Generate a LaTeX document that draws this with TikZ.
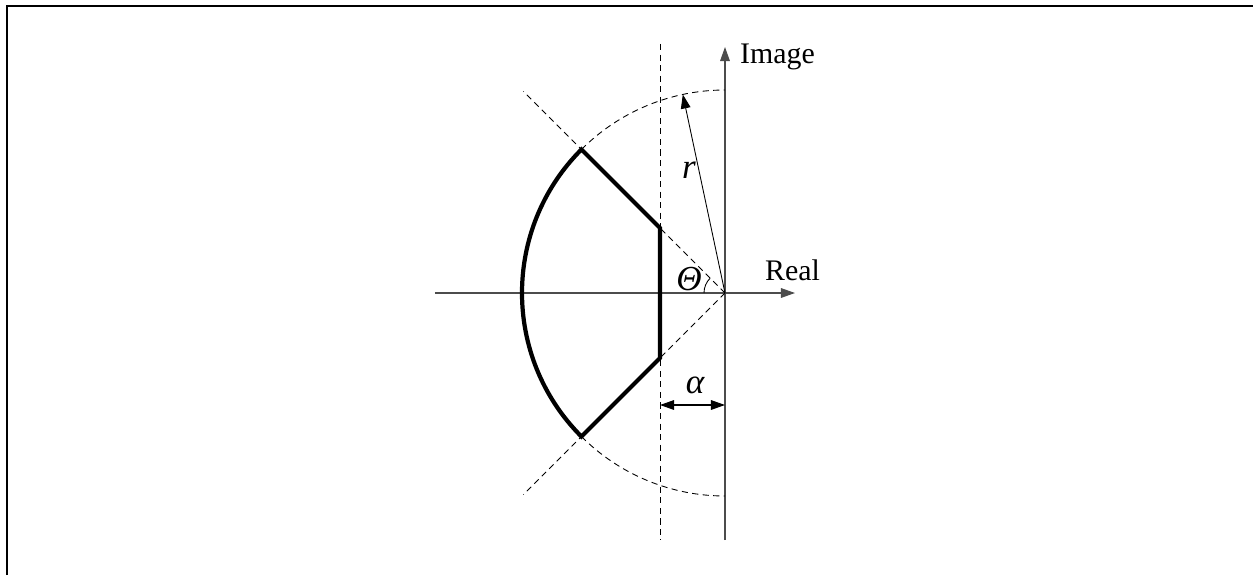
\documentclass[tikz,border=0pt]{standalone}
\usepackage{fontspec}
\setmainfont{Liberation Serif}
\usetikzlibrary{arrows.meta}
\begin{document}
\begin{tikzpicture}[>={Triangle[length=8pt,width=5.5pt]}, x=0.02cm, y=0.02cm,
    font=\fontsize{17}{20}\selectfont,
    axis/.style={black!70, line width=0.6pt},
    guide/.style={dashed, dash pattern=on 3.5pt off 2.5pt, line width=0.5pt},
    region/.style={line width=2.4pt, line join=miter},
    sym/.style={font=\fontsize{20}{24}\selectfont\itshape}]
    \useasboundingbox (-725,293) rectangle (528,-282);
    \draw[line width=1.2pt] (-718,-282) -- (-718,287) -- (528,287);
    % axes
    \coordinate (O) at (0,0);
    \coordinate (Xl) at (-290,0);
    \coordinate (Xr) at (70,0);
    \coordinate (Yb) at (0,-247);
    \coordinate (Yt) at (0,246);
    \draw[axis,->] (Xl) -- (Xr);
    \draw[axis,->] (Yb) -- (Yt);
    \node[anchor=west] (Im) at (9,236) {Image};
    \node[anchor=west] (Re) at (34,23) {Real};
    % guides
    \coordinate (A) at (135:203);
    \coordinate (B) at (225:203);
    \coordinate (P) at (-65,65);
    \coordinate (Q) at (-65,-65);
    \coordinate (Dt) at (-65,249);
    \coordinate (Db) at (-65,-247);
    \draw[guide] (Dt) -- (Db);
    \draw[guide] (O) -- (135:285);
    \draw[guide] (O) -- (225:285);
    \draw[guide] (A) arc[start angle=135, end angle=90, radius=203];
    \draw[guide] (B) arc[start angle=225, end angle=270, radius=203];
    % region
    \draw[region] (B) arc[start angle=225, end angle=135, radius=203] -- (P) -- (Q) -- cycle;
    % labels
    \coordinate (R) at (102:203);
    \draw[->, line width=0.5pt] (O) -- (R);
    \node[sym] (r) at (-36,123) {r};
    \draw[line width=0.5pt] (O) ++(180:21) arc[start angle=180, end angle=135, radius=21];
    \node[sym] (th) at (-36,14) {Θ};
    \coordinate (Al) at (-65,-112);
    \coordinate (Ar) at (0,-112);
    \draw[<->, line width=0.6pt] (Al) -- (Ar);
    \node[sym] (al) at (-30,-92) {α};
\end{tikzpicture}
\end{document}
